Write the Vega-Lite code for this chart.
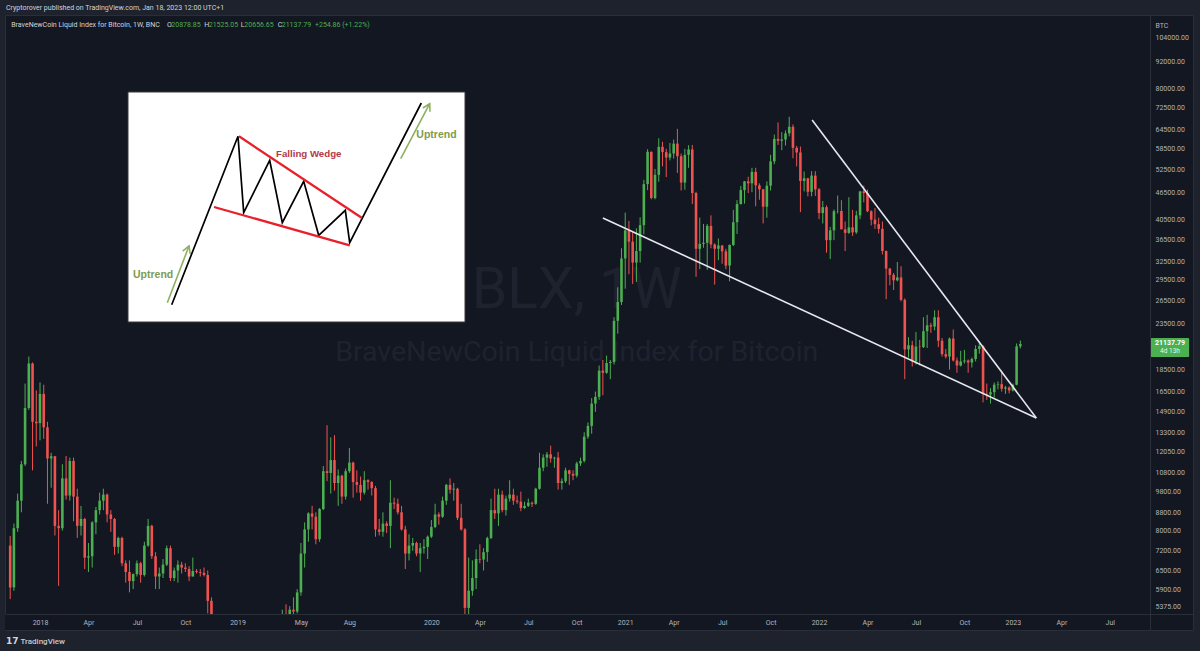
{
"$schema": "https://vega.github.io/schema/vega-lite/v6.json",
"width": 1188, "height": 615,
"autosize": {"type": "none"},
"padding": {"left": 5, "top": 15, "right": 7, "bottom": 21},
"background": "#1e222d",
"config": {"view": {"fill": "#131722", "stroke": "#2a2e39", "strokeWidth": 1}, "font": "Roboto"},
"title": {"text": "Cryptorover published on TradingView.com, Jan 18, 2023 12:00 UTC+1", "anchor": "start", "frame": "group", "orient": "top", "offset": 0, "baseline": "middle", "fontSize": 7, "fontWeight": "normal", "color": "#d1d4dc", "font": "Roboto", "dx": 1},
"datasets": {
"candles": [
{"d":"2017-11-06","o":7400,"h":7780,"l":5600,"c":5950},
{"d":"2017-11-13","o":5950,"h":8300,"l":5850,"c":8100},
{"d":"2017-11-20","o":8100,"h":9700,"l":7950,"c":9350},
{"d":"2017-11-27","o":9350,"h":11500,"l":8800,"c":11300},
{"d":"2017-12-04","o":11300,"h":17200,"l":11200,"c":15150},
{"d":"2017-12-11","o":15150,"h":19800,"l":15000,"c":19100},
{"d":"2017-12-18","o":19100,"h":19200,"l":10950,"c":14100},
{"d":"2017-12-25","o":14100,"h":16600,"l":12400,"c":14000},
{"d":"2018-01-01","o":14000,"h":17300,"l":12800,"c":16300},
{"d":"2018-01-08","o":16300,"h":17100,"l":12900,"c":13700},
{"d":"2018-01-15","o":13700,"h":14100,"l":9200,"c":11650},
{"d":"2018-01-22","o":11650,"h":12000,"l":10000,"c":11780},
{"d":"2018-01-29","o":11780,"h":11800,"l":7800,"c":8200},
{"d":"2018-02-05","o":8200,"h":8900,"l":6000,"c":8100},
{"d":"2018-02-12","o":8100,"h":11300,"l":8000,"c":10500},
{"d":"2018-02-19","o":10500,"h":11800,"l":9400,"c":9600},
{"d":"2018-02-26","o":9600,"h":11700,"l":9350,"c":11500},
{"d":"2018-03-05","o":11500,"h":11700,"l":8400,"c":9550},
{"d":"2018-03-12","o":9550,"h":9950,"l":7700,"c":8200},
{"d":"2018-03-19","o":8200,"h":9100,"l":7800,"c":8500},
{"d":"2018-03-26","o":8500,"h":8550,"l":6550,"c":6950},
{"d":"2018-04-02","o":6950,"h":7500,"l":6450,"c":7000},
{"d":"2018-04-09","o":7000,"h":8400,"l":6600,"c":8350},
{"d":"2018-04-16","o":8350,"h":9050,"l":7850,"c":8900},
{"d":"2018-04-23","o":8900,"h":9750,"l":8700,"c":9350},
{"d":"2018-04-30","o":9350,"h":9950,"l":8900,"c":9650},
{"d":"2018-05-07","o":9650,"h":9700,"l":8350,"c":8700},
{"d":"2018-05-14","o":8700,"h":8900,"l":7950,"c":8500},
{"d":"2018-05-21","o":8500,"h":8550,"l":7050,"c":7350},
{"d":"2018-05-28","o":7350,"h":7750,"l":7100,"c":7700},
{"d":"2018-06-04","o":7700,"h":7750,"l":6650,"c":6750},
{"d":"2018-06-11","o":6750,"h":6850,"l":6100,"c":6450},
{"d":"2018-06-18","o":6450,"h":6850,"l":5800,"c":6150},
{"d":"2018-06-25","o":6150,"h":6400,"l":5900,"c":6380},
{"d":"2018-07-02","o":6380,"h":6850,"l":6300,"c":6750},
{"d":"2018-07-09","o":6750,"h":6800,"l":6100,"c":6350},
{"d":"2018-07-16","o":6350,"h":7550,"l":6300,"c":7400},
{"d":"2018-07-23","o":7400,"h":8500,"l":7350,"c":8200},
{"d":"2018-07-30","o":8200,"h":8250,"l":6900,"c":7000},
{"d":"2018-08-06","o":7000,"h":7150,"l":5900,"c":6300},
{"d":"2018-08-13","o":6300,"h":6600,"l":5900,"c":6400},
{"d":"2018-08-20","o":6400,"h":6900,"l":6250,"c":6700},
{"d":"2018-08-27","o":6700,"h":7400,"l":6650,"c":7300},
{"d":"2018-09-03","o":7300,"h":7400,"l":6150,"c":6250},
{"d":"2018-09-10","o":6250,"h":6600,"l":6150,"c":6500},
{"d":"2018-09-17","o":6500,"h":6850,"l":6100,"c":6700},
{"d":"2018-09-24","o":6700,"h":6800,"l":6400,"c":6600},
{"d":"2018-10-01","o":6600,"h":6750,"l":6450,"c":6550},
{"d":"2018-10-08","o":6550,"h":6650,"l":6150,"c":6300},
{"d":"2018-10-15","o":6300,"h":6950,"l":6300,"c":6480},
{"d":"2018-10-22","o":6480,"h":6550,"l":6400,"c":6450},
{"d":"2018-10-29","o":6450,"h":6550,"l":6300,"c":6420},
{"d":"2018-11-05","o":6420,"h":6600,"l":6300,"c":6350},
{"d":"2018-11-12","o":6350,"h":6500,"l":5200,"c":5550},
{"d":"2018-11-19","o":5550,"h":5650,"l":3600,"c":4000},
{"d":"2018-11-26","o":4000,"h":4350,"l":3500,"c":4150},
{"d":"2018-12-03","o":4150,"h":4200,"l":3400,"c":3550},
{"d":"2018-12-10","o":3550,"h":3620,"l":3150,"c":3250},
{"d":"2018-12-17","o":3250,"h":4200,"l":3220,"c":3950},
{"d":"2018-12-24","o":3950,"h":4250,"l":3570,"c":3750},
{"d":"2018-12-31","o":3750,"h":4100,"l":3650,"c":4050},
{"d":"2019-01-07","o":4050,"h":4100,"l":3500,"c":3550},
{"d":"2019-01-14","o":3550,"h":3850,"l":3520,"c":3530},
{"d":"2019-01-21","o":3530,"h":3650,"l":3450,"c":3450},
{"d":"2019-01-28","o":3450,"h":3550,"l":3350,"c":3420},
{"d":"2019-02-04","o":3420,"h":3700,"l":3350,"c":3650},
{"d":"2019-02-11","o":3650,"h":3700,"l":3550,"c":3660},
{"d":"2019-02-18","o":3660,"h":4200,"l":3650,"c":3850},
{"d":"2019-02-25","o":3850,"h":3900,"l":3700,"c":3860},
{"d":"2019-03-04","o":3860,"h":3950,"l":3700,"c":3920},
{"d":"2019-03-11","o":3920,"h":4050,"l":3800,"c":4000},
{"d":"2019-03-18","o":4000,"h":4100,"l":3900,"c":3980},
{"d":"2019-03-25","o":3980,"h":4150,"l":3950,"c":4100},
{"d":"2019-04-01","o":4100,"h":5300,"l":4100,"c":5150},
{"d":"2019-04-08","o":5150,"h":5450,"l":4950,"c":5080},
{"d":"2019-04-15","o":5080,"h":5400,"l":5050,"c":5300},
{"d":"2019-04-22","o":5300,"h":5650,"l":5100,"c":5250},
{"d":"2019-04-29","o":5250,"h":5900,"l":5200,"c":5800},
{"d":"2019-05-06","o":5800,"h":7500,"l":5700,"c":7100},
{"d":"2019-05-13","o":7100,"h":8350,"l":6600,"c":8050},
{"d":"2019-05-20","o":8050,"h":8800,"l":7550,"c":8750},
{"d":"2019-05-27","o":8750,"h":9100,"l":8050,"c":8600},
{"d":"2019-06-03","o":8600,"h":8800,"l":7450,"c":7650},
{"d":"2019-06-10","o":7650,"h":9000,"l":7550,"c":8950},
{"d":"2019-06-17","o":8950,"h":11200,"l":8900,"c":10900},
{"d":"2019-06-24","o":10900,"h":13850,"l":10350,"c":10800},
{"d":"2019-07-01","o":10800,"h":13000,"l":9700,"c":11550},
{"d":"2019-07-08","o":11550,"h":13150,"l":9850,"c":10250},
{"d":"2019-07-15","o":10250,"h":11000,"l":9100,"c":10650},
{"d":"2019-07-22","o":10650,"h":10700,"l":9200,"c":9550},
{"d":"2019-07-29","o":9550,"h":11050,"l":9400,"c":10900},
{"d":"2019-08-05","o":10900,"h":12300,"l":10800,"c":11400},
{"d":"2019-08-12","o":11400,"h":11450,"l":9500,"c":10300},
{"d":"2019-08-19","o":10300,"h":10950,"l":9750,"c":10150},
{"d":"2019-08-26","o":10150,"h":10600,"l":9350,"c":9750},
{"d":"2019-09-02","o":9750,"h":10900,"l":9650,"c":10400},
{"d":"2019-09-09","o":10400,"h":10450,"l":9900,"c":10300},
{"d":"2019-09-16","o":10300,"h":10350,"l":9600,"c":9980},
{"d":"2019-09-23","o":9980,"h":10100,"l":7750,"c":8050},
{"d":"2019-09-30","o":8050,"h":8500,"l":7800,"c":7950},
{"d":"2019-10-07","o":7950,"h":8800,"l":7750,"c":8300},
{"d":"2019-10-14","o":8300,"h":8400,"l":7900,"c":8200},
{"d":"2019-10-21","o":8200,"h":10400,"l":7300,"c":9250},
{"d":"2019-10-28","o":9250,"h":9500,"l":8950,"c":9200},
{"d":"2019-11-04","o":9200,"h":9450,"l":8700,"c":8800},
{"d":"2019-11-11","o":8800,"h":9100,"l":8000,"c":8050},
{"d":"2019-11-18","o":8050,"h":8200,"l":6550,"c":7100},
{"d":"2019-11-25","o":7100,"h":7850,"l":6850,"c":7400},
{"d":"2019-12-02","o":7400,"h":7700,"l":7200,"c":7500},
{"d":"2019-12-09","o":7500,"h":7550,"l":7000,"c":7100},
{"d":"2019-12-16","o":7100,"h":7500,"l":6450,"c":7300},
{"d":"2019-12-23","o":7300,"h":7650,"l":7100,"c":7350},
{"d":"2019-12-30","o":7350,"h":7800,"l":6900,"c":7750},
{"d":"2020-01-06","o":7750,"h":8450,"l":7700,"c":8150},
{"d":"2020-01-13","o":8150,"h":9200,"l":8100,"c":8700},
{"d":"2020-01-20","o":8700,"h":8800,"l":8250,"c":8600},
{"d":"2020-01-27","o":8600,"h":9550,"l":8550,"c":9350},
{"d":"2020-02-03","o":9350,"h":10200,"l":9150,"c":10150},
{"d":"2020-02-10","o":10150,"h":10500,"l":9700,"c":9900},
{"d":"2020-02-17","o":9900,"h":10250,"l":9350,"c":9950},
{"d":"2020-02-24","o":9950,"h":10000,"l":8450,"c":8550},
{"d":"2020-03-02","o":8550,"h":9200,"l":8000,"c":8050},
{"d":"2020-03-09","o":8050,"h":8100,"l":3850,"c":5350},
{"d":"2020-03-16","o":5350,"h":6950,"l":4450,"c":5850},
{"d":"2020-03-23","o":5850,"h":6850,"l":5700,"c":6250},
{"d":"2020-03-30","o":6250,"h":7250,"l":5900,"c":6900},
{"d":"2020-04-06","o":6900,"h":7450,"l":6750,"c":6880},
{"d":"2020-04-13","o":6880,"h":7300,"l":6500,"c":7150},
{"d":"2020-04-20","o":7150,"h":7750,"l":6800,"c":7700},
{"d":"2020-04-27","o":7700,"h":9450,"l":7650,"c":8900},
{"d":"2020-05-04","o":8900,"h":9950,"l":8500,"c":8750},
{"d":"2020-05-11","o":8750,"h":9950,"l":8200,"c":9650},
{"d":"2020-05-18","o":9650,"h":9850,"l":8800,"c":8900},
{"d":"2020-05-25","o":8900,"h":9600,"l":8650,"c":9450},
{"d":"2020-06-01","o":9450,"h":10400,"l":9300,"c":9650},
{"d":"2020-06-08","o":9650,"h":9950,"l":9150,"c":9350},
{"d":"2020-06-15","o":9350,"h":9600,"l":9200,"c":9300},
{"d":"2020-06-22","o":9300,"h":9800,"l":8850,"c":9000},
{"d":"2020-06-29","o":9000,"h":9300,"l":8950,"c":9100},
{"d":"2020-07-06","o":9100,"h":9450,"l":9050,"c":9250},
{"d":"2020-07-13","o":9250,"h":9300,"l":9050,"c":9200},
{"d":"2020-07-20","o":9200,"h":10000,"l":9150,"c":9950},
{"d":"2020-07-27","o":9950,"h":12000,"l":9900,"c":11100},
{"d":"2020-08-03","o":11100,"h":11900,"l":10900,"c":11700},
{"d":"2020-08-10","o":11700,"h":12050,"l":11150,"c":11900},
{"d":"2020-08-17","o":11900,"h":12450,"l":11400,"c":11650},
{"d":"2020-08-24","o":11650,"h":11750,"l":11100,"c":11700},
{"d":"2020-08-31","o":11700,"h":12050,"l":9900,"c":10250},
{"d":"2020-09-07","o":10250,"h":10500,"l":9900,"c":10350},
{"d":"2020-09-14","o":10350,"h":11100,"l":10250,"c":10950},
{"d":"2020-09-21","o":10950,"h":10980,"l":10150,"c":10750},
{"d":"2020-09-28","o":10750,"h":10950,"l":10400,"c":10650},
{"d":"2020-10-05","o":10650,"h":11450,"l":10550,"c":11350},
{"d":"2020-10-12","o":11350,"h":11700,"l":11200,"c":11500},
{"d":"2020-10-19","o":11500,"h":13350,"l":11400,"c":13050},
{"d":"2020-10-26","o":13050,"h":14050,"l":12900,"c":13800},
{"d":"2020-11-02","o":13800,"h":15950,"l":13250,"c":15500},
{"d":"2020-11-09","o":15500,"h":16500,"l":14850,"c":16050},
{"d":"2020-11-16","o":16050,"h":18900,"l":15800,"c":18400},
{"d":"2020-11-23","o":18400,"h":19450,"l":16200,"c":18200},
{"d":"2020-11-30","o":18200,"h":19900,"l":18100,"c":19150},
{"d":"2020-12-07","o":19150,"h":19450,"l":17600,"c":19250},
{"d":"2020-12-14","o":19250,"h":24300,"l":19000,"c":23850},
{"d":"2020-12-21","o":23850,"h":28400,"l":22300,"c":26300},
{"d":"2020-12-28","o":26300,"h":34800,"l":25900,"c":33000},
{"d":"2021-01-04","o":33000,"h":41900,"l":28200,"c":38200},
{"d":"2021-01-11","o":38200,"h":40100,"l":30400,"c":36000},
{"d":"2021-01-18","o":36000,"h":37900,"l":28900,"c":32300},
{"d":"2021-01-25","o":32300,"h":38600,"l":29200,"c":34300},
{"d":"2021-02-01","o":34300,"h":40900,"l":32300,"c":39250},
{"d":"2021-02-08","o":39250,"h":49700,"l":37400,"c":48600},
{"d":"2021-02-15","o":48600,"h":58300,"l":47100,"c":57500},
{"d":"2021-02-22","o":57500,"h":57600,"l":44900,"c":45200},
{"d":"2021-03-01","o":45200,"h":52600,"l":44900,"c":51000},
{"d":"2021-03-08","o":51000,"h":61700,"l":49200,"c":59000},
{"d":"2021-03-15","o":59000,"h":60600,"l":53300,"c":57400},
{"d":"2021-03-22","o":57400,"h":58400,"l":50400,"c":55800},
{"d":"2021-03-29","o":55800,"h":60200,"l":55000,"c":57000},
{"d":"2021-04-05","o":57000,"h":61300,"l":55500,"c":60000},
{"d":"2021-04-12","o":60000,"h":64800,"l":51500,"c":56200},
{"d":"2021-04-19","o":56200,"h":57000,"l":47000,"c":49000},
{"d":"2021-04-26","o":49000,"h":58400,"l":47200,"c":56600},
{"d":"2021-05-03","o":56600,"h":59500,"l":52900,"c":58200},
{"d":"2021-05-10","o":58200,"h":59600,"l":43800,"c":46400},
{"d":"2021-05-17","o":46400,"h":46700,"l":30000,"c":34700},
{"d":"2021-05-24","o":34700,"h":40800,"l":31200,"c":35600},
{"d":"2021-05-31","o":35600,"h":39500,"l":34900,"c":35800},
{"d":"2021-06-07","o":35800,"h":39500,"l":31100,"c":39100},
{"d":"2021-06-14","o":39100,"h":41300,"l":34800,"c":35500},
{"d":"2021-06-21","o":35500,"h":35700,"l":28800,"c":34700},
{"d":"2021-06-28","o":34700,"h":36600,"l":32700,"c":35300},
{"d":"2021-07-05","o":35300,"h":35400,"l":32100,"c":34250},
{"d":"2021-07-12","o":34250,"h":34700,"l":31200,"c":31800},
{"d":"2021-07-19","o":31800,"h":35500,"l":29300,"c":35400},
{"d":"2021-07-26","o":35400,"h":42500,"l":35200,"c":39850},
{"d":"2021-08-02","o":39850,"h":44700,"l":37500,"c":43800},
{"d":"2021-08-09","o":43800,"h":48100,"l":43700,"c":47100},
{"d":"2021-08-16","o":47100,"h":49400,"l":43900,"c":49300},
{"d":"2021-08-23","o":49300,"h":50500,"l":46400,"c":48800},
{"d":"2021-08-30","o":48800,"h":52900,"l":46600,"c":51800},
{"d":"2021-09-06","o":51800,"h":52900,"l":43300,"c":48300},
{"d":"2021-09-13","o":48300,"h":48800,"l":44800,"c":47300},
{"d":"2021-09-20","o":47300,"h":47400,"l":39600,"c":43200},
{"d":"2021-09-27","o":43200,"h":49300,"l":40800,"c":48200},
{"d":"2021-10-04","o":48200,"h":56600,"l":47000,"c":54700},
{"d":"2021-10-11","o":54700,"h":62900,"l":53900,"c":61500},
{"d":"2021-10-18","o":61500,"h":67000,"l":59600,"c":60900},
{"d":"2021-10-25","o":60900,"h":63700,"l":58000,"c":61300},
{"d":"2021-11-01","o":61300,"h":64300,"l":59400,"c":63300},
{"d":"2021-11-08","o":63300,"h":69000,"l":62300,"c":65500},
{"d":"2021-11-15","o":65500,"h":66300,"l":55600,"c":58700},
{"d":"2021-11-22","o":58700,"h":59300,"l":53300,"c":57300},
{"d":"2021-11-29","o":57300,"h":59100,"l":42000,"c":49400},
{"d":"2021-12-06","o":49400,"h":51900,"l":46800,"c":50100},
{"d":"2021-12-13","o":50100,"h":50200,"l":45600,"c":46700},
{"d":"2021-12-20","o":46700,"h":52000,"l":45600,"c":50800},
{"d":"2021-12-27","o":50800,"h":52000,"l":45700,"c":47300},
{"d":"2022-01-03","o":47300,"h":47600,"l":40500,"c":41800},
{"d":"2022-01-10","o":41800,"h":44500,"l":39600,"c":43100},
{"d":"2022-01-17","o":43100,"h":43500,"l":34000,"c":36300},
{"d":"2022-01-24","o":36300,"h":38900,"l":32900,"c":38200},
{"d":"2022-01-31","o":38200,"h":42600,"l":36300,"c":42200},
{"d":"2022-02-07","o":42200,"h":45800,"l":41700,"c":42250},
{"d":"2022-02-14","o":42250,"h":44700,"l":39600,"c":38400},
{"d":"2022-02-21","o":38400,"h":40000,"l":34300,"c":37700},
{"d":"2022-02-28","o":37700,"h":45400,"l":37500,"c":38800},
{"d":"2022-03-07","o":38800,"h":42500,"l":37100,"c":37800},
{"d":"2022-03-14","o":37800,"h":42300,"l":37500,"c":41300},
{"d":"2022-03-21","o":41300,"h":46900,"l":40500,"c":46800},
{"d":"2022-03-28","o":46800,"h":48200,"l":44200,"c":46400},
{"d":"2022-04-04","o":46400,"h":47200,"l":42000,"c":42200},
{"d":"2022-04-11","o":42200,"h":42400,"l":39200,"c":40400},
{"d":"2022-04-18","o":40400,"h":42900,"l":38500,"c":39450},
{"d":"2022-04-25","o":39450,"h":40800,"l":37600,"c":38500},
{"d":"2022-05-02","o":38500,"h":40000,"l":33700,"c":34300},
{"d":"2022-05-09","o":34300,"h":34400,"l":26700,"c":31300},
{"d":"2022-05-16","o":31300,"h":31400,"l":28700,"c":30300},
{"d":"2022-05-23","o":30300,"h":30600,"l":28000,"c":29450},
{"d":"2022-05-30","o":29450,"h":32400,"l":29300,"c":29900},
{"d":"2022-06-06","o":29900,"h":31700,"l":26400,"c":26600},
{"d":"2022-06-13","o":26600,"h":26800,"l":17600,"c":20550},
{"d":"2022-06-20","o":20550,"h":21900,"l":19700,"c":21000},
{"d":"2022-06-27","o":21000,"h":21500,"l":18800,"c":19300},
{"d":"2022-07-04","o":19300,"h":22500,"l":19000,"c":20850},
{"d":"2022-07-11","o":20850,"h":21600,"l":18900,"c":20800},
{"d":"2022-07-18","o":20800,"h":24300,"l":20700,"c":22600},
{"d":"2022-07-25","o":22600,"h":24600,"l":20700,"c":23300},
{"d":"2022-08-01","o":23300,"h":23600,"l":22400,"c":23150},
{"d":"2022-08-08","o":23150,"h":25200,"l":22700,"c":24300},
{"d":"2022-08-15","o":24300,"h":25200,"l":20800,"c":21500},
{"d":"2022-08-22","o":21500,"h":21800,"l":19800,"c":20050},
{"d":"2022-08-29","o":20050,"h":20600,"l":19600,"c":19800},
{"d":"2022-09-05","o":19800,"h":21850,"l":18500,"c":21750},
{"d":"2022-09-12","o":21750,"h":22800,"l":19300,"c":19400},
{"d":"2022-09-19","o":19400,"h":19700,"l":18200,"c":18900},
{"d":"2022-09-26","o":18900,"h":20400,"l":18800,"c":19300},
{"d":"2022-10-03","o":19300,"h":20500,"l":19100,"c":19400},
{"d":"2022-10-10","o":19400,"h":19500,"l":18200,"c":19200},
{"d":"2022-10-17","o":19200,"h":19700,"l":18700,"c":19550},
{"d":"2022-10-24","o":19550,"h":21000,"l":19300,"c":20600},
{"d":"2022-10-31","o":20600,"h":21450,"l":20100,"c":20900},
{"d":"2022-11-07","o":20900,"h":21000,"l":15600,"c":16300},
{"d":"2022-11-14","o":16300,"h":17200,"l":15800,"c":16250},
{"d":"2022-11-21","o":16250,"h":16800,"l":15500,"c":16450},
{"d":"2022-11-28","o":16450,"h":17300,"l":16000,"c":17100},
{"d":"2022-12-05","o":17100,"h":17400,"l":16700,"c":17150},
{"d":"2022-12-12","o":17150,"h":18400,"l":16500,"c":16750},
{"d":"2022-12-19","o":16750,"h":17000,"l":16300,"c":16850},
{"d":"2022-12-26","o":16850,"h":16950,"l":16350,"c":16600},
{"d":"2023-01-02","o":16600,"h":17200,"l":16500,"c":17100},
{"d":"2023-01-09","o":17100,"h":21200,"l":17050,"c":20878.85},
{"d":"2023-01-16","o":20878.85,"h":21525.05,"l":20656.65,"c":21137.79}
]
},
"layer": [
{"layer": [
  {"data": {"values": [{}]},
   "mark": {"type": "text", "text": "BLX, 1W", "fontSize": 57, "align": "center", "baseline": "alphabetic", "fill": "#1e222f", "font": "Roboto"},
   "encoding": {
     "x": {"datum": {"year": 2020, "month": 10, "date": 5, "utc": true}, "type": "temporal", "scale": {"type": "utc", "domain": [1509085728000, 1701843264000], "nice": false, "padding": 0}},
     "y": {"datum": 25518, "type": "quantitative", "scale": {"type": "log", "domain": [4768, 117230], "nice": false}}}},
  {"data": {"values": [{}]},
   "mark": {"type": "text", "text": "BraveNewCoin Liquid Index for Bitcoin", "fontSize": 28.5, "align": "center", "baseline": "alphabetic", "fill": "#1e222f", "font": "Roboto"},
   "encoding": {
     "x": {"datum": {"year": 2020, "month": 10, "date": 5, "utc": true}, "type": "temporal", "scale": {"type": "utc", "domain": [1509085728000, 1701843264000], "nice": false, "padding": 0}},
     "y": {"datum": 19336, "type": "quantitative", "scale": {"type": "log", "domain": [4768, 117230], "nice": false}}}},
  {"data": {"name": "candles"},
   "mark": {"type": "rule", "strokeWidth": 1, "clip": true},
   "encoding": {
     "x": {"field": "d", "type": "temporal", "scale": {"type": "utc", "domain": [1509085728000, 1701843264000], "nice": false, "padding": 0},
       "axis": {"orient": "bottom", "offset": -16,
         "values": [1514764800000,1522627200000,1530489600000,1538352000000,1546819200000,1557100800000,1564963200000,1578268800000,1586131200000,1593993600000,1601856000000,1609718400000,1617580800000,1625443200000,1633305600000,1641168000000,1649030400000,1656892800000,1664755200000,1672617600000,1680480000000,1688342400000],
         "labelExpr": "utcmonth(datum.value) === 0 ? utcFormat(datum.value, '%Y') : utcFormat(datum.value, '%b')",
         "grid": false, "ticks": false, "domain": true, "domainColor": "#2a2e39", "domainWidth": 1,
         "labelColor": "#b2b5be", "labelFontSize": 7, "labelFont": "Roboto", "labelPadding": 4, "labelFlush": false, "labelOverlap": false, "labelAlign": "center", "labelBaseline": "top",
         "title": "TradingView", "titleColor": "#c8cad0", "titleFontSize": 8, "titleFont": "Roboto", "titleFontWeight": 500, "titleAlign": "left", "titleBaseline": "middle", "titleX": 15, "titleY": 27, "zindex": 1}},
     "y": {"field": "l", "type": "quantitative", "scale": {"type": "log", "domain": [4768, 117230], "nice": false},
       "axis": {"orient": "right", "offset": -43,
         "values": [104000,92000,80000,72500,64500,58500,52500,46500,40500,36500,32500,29500,26500,23500,18500,16500,14900,13300,12050,10800,9800,8800,8000,7200,6500,5900,5375],
         "format": ".2f", "grid": false, "ticks": false, "domain": true, "domainColor": "#2a2e39", "domainWidth": 1,
         "labelColor": "#b2b5be", "labelFontSize": 7, "labelFont": "Roboto", "labelPadding": 5, "labelAlign": "left", "labelBaseline": "middle", "labelOverlap": false, "labelFlush": false,
         "title": "BTC", "titleAngle": 0, "titleX": 5, "titleY": 10, "titleAlign": "left", "titleBaseline": "middle", "titleColor": "#b2b5be", "titleFontSize": 7, "titleFont": "Roboto", "titleFontWeight": "normal", "zindex": 1}},
     "y2": {"field": "h"},
     "color": {"condition": {"test": "datum.c >= datum.o", "value": "#4caf50"}, "value": "#ef5350"}}},
  {"data": {"name": "candles"},
   "mark": {"type": "bar", "width": 2.6, "clip": true},
   "encoding": {
     "x": {"field": "d", "type": "temporal", "scale": {"type": "utc", "domain": [1509085728000, 1701843264000], "nice": false, "padding": 0}},
     "y": {"field": "o", "type": "quantitative", "scale": {"type": "log", "domain": [4768, 117230], "nice": false}},
     "y2": {"field": "c"},
     "color": {"condition": {"test": "datum.c >= datum.o", "value": "#4caf50"}, "value": "#ef5350"}}},
  {"data": {"values": [
     {"g": "lower", "d": "2020-11-23", "p": 40740},
     {"g": "lower", "d": "2023-02-15", "p": 14380},
     {"g": "upper", "d": "2021-12-21", "p": 67860},
     {"g": "upper", "d": "2023-02-15", "p": 14380}]},
   "mark": {"type": "line", "color": "#e6e8ee", "strokeWidth": 1.6, "clip": true},
   "encoding": {
     "x": {"field": "d", "type": "temporal", "scale": {"type": "utc", "domain": [1509085728000, 1701843264000], "nice": false, "padding": 0}},
     "y": {"field": "p", "type": "quantitative", "scale": {"type": "log", "domain": [4768, 117230], "nice": false}},
     "detail": {"field": "g"}}},
  {"data": {"values": [{}]},
   "mark": {"type": "rect", "fill": "#131722", "clip": true},
   "encoding": {
     "x": {"datum": {"year": 2017, "month": 9, "date": 1, "utc": true}, "type": "temporal", "scale": {"type": "utc", "domain": [1509085728000, 1701843264000], "nice": false, "padding": 0}},
     "x2": {"datum": {"year": 2024, "month": 2, "date": 1, "utc": true}},
     "y": {"datum": 4000, "type": "quantitative", "scale": {"type": "log", "domain": [4768, 117230], "nice": false}},
     "y2": {"datum": 5181}}},
  {"data": {"values": [
     {"t": "BraveNewCoin Liquid Index for Bitcoin, 1W, BNC", "d": "2017-11-08T00:00:00Z"},
     {"t": "O", "d": "2018-08-27T12:00:00Z"},
     {"t": "H", "d": "2018-11-05T12:00:00Z"},
     {"t": "L", "d": "2019-01-13T00:00:00Z"},
     {"t": "C", "d": "2019-03-23T10:00:00Z"}]},
   "mark": {"type": "text", "align": "left", "baseline": "middle", "fontSize": 7, "fill": "#d1d4dc", "font": "Roboto"},
   "encoding": {
     "x": {"field": "d", "type": "temporal", "scale": {"type": "utc", "domain": [1509085728000, 1701843264000], "nice": false, "padding": 0}},
     "y": {"datum": 111290, "type": "quantitative", "scale": {"type": "log", "domain": [4768, 117230], "nice": false}},
     "text": {"field": "t"}}},
  {"data": {"values": [
     {"t": "20878.85", "d": "2018-09-04T12:00:00Z"},
     {"t": "21525.05", "d": "2018-11-13T19:00:00Z"},
     {"t": "20656.65", "d": "2019-01-19T17:00:00Z"},
     {"t": "21137.79", "d": "2019-03-30T22:00:00Z"},
     {"t": "+254.86 (+1.22%)", "d": "2019-06-01T10:00:00Z"}]},
   "mark": {"type": "text", "align": "left", "baseline": "middle", "fontSize": 7, "fill": "#4caf50", "font": "Roboto"},
   "encoding": {
     "x": {"field": "d", "type": "temporal", "scale": {"type": "utc", "domain": [1509085728000, 1701843264000], "nice": false, "padding": 0}},
     "y": {"datum": 111290, "type": "quantitative", "scale": {"type": "log", "domain": [4768, 117230], "nice": false}},
     "text": {"field": "t"}}},
  {"data": {"values": [{}]},
   "mark": {"type": "rect", "fill": "#4caf50", "cornerRadius": 1},
   "encoding": {
     "x": {"datum": {"year": 2023, "month": 9, "date": 18, "utc": true}, "type": "temporal", "scale": {"type": "utc", "domain": [1509085728000, 1701843264000], "nice": false, "padding": 0}},
     "x2": {"datum": {"year": 2023, "month": 11, "date": 29, "utc": true}},
     "y": {"datum": 21796, "type": "quantitative", "scale": {"type": "log", "domain": [4768, 117230], "nice": false}},
     "y2": {"datum": 19744}}},
  {"data": {"values": [{}]},
   "mark": {"type": "text", "text": "21137.79", "align": "center", "baseline": "middle", "fontSize": 7, "fontWeight": "bold", "fill": "#ffffff", "font": "Roboto"},
   "encoding": {
     "x": {"datum": {"year": 2023, "month": 10, "date": 24, "utc": true}, "type": "temporal", "scale": {"type": "utc", "domain": [1509085728000, 1701843264000], "nice": false, "padding": 0}},
     "y": {"datum": 21291, "type": "quantitative", "scale": {"type": "log", "domain": [4768, 117230], "nice": false}}}},
  {"data": {"values": [{}]},
   "mark": {"type": "text", "text": "4d 13h", "align": "center", "baseline": "middle", "fontSize": 6.5, "fill": "#e8f5e9", "font": "Roboto"},
   "encoding": {
     "x": {"datum": {"year": 2023, "month": 10, "date": 24, "utc": true}, "type": "temporal", "scale": {"type": "utc", "domain": [1509085728000, 1701843264000], "nice": false, "padding": 0}},
     "y": {"datum": 20369, "type": "quantitative", "scale": {"type": "log", "domain": [4768, 117230], "nice": false}}}},
  {"data": {"values": [{}]},
   "mark": {"type": "text", "text": "17", "align": "left", "baseline": "middle", "fontSize": 9, "fontWeight": "bold", "fill": "#d1d4dc", "font": "DejaVu Sans"},
   "encoding": {
     "x": {"datum": {"year": 2017, "month": 10, "date": 29, "utc": true}, "type": "temporal", "scale": {"type": "utc", "domain": [1509085728000, 1701843264000], "nice": false, "padding": 0}},
     "y": {"datum": 4502, "type": "quantitative", "scale": {"type": "log", "domain": [4768, 117230], "nice": false}}}}
]},
{"layer": [
  {"data": {"values": [{"u": 0, "v": 0, "u2": 337, "v2": 230}]},
   "mark": {"type": "rect", "fill": "#ffffff", "stroke": "#3a3a3a", "strokeWidth": 1},
   "encoding": {
     "x": {"field": "u", "type": "quantitative", "scale": {"domain": [-123, 1065], "nice": false, "zero": false}, "axis": null},
     "x2": {"field": "u2"},
     "y": {"field": "v", "type": "quantitative", "scale": {"domain": [-77, 538], "nice": false, "zero": false, "reverse": true}, "axis": null},
     "y2": {"field": "v2"}}},
  {"data": {"values": [
     {"g": "z", "i": 0, "u": 43.7, "v": 212.7},
     {"g": "z", "i": 1, "u": 110, "v": 44.3},
     {"g": "z", "i": 2, "u": 115.7, "v": 120.7},
     {"g": "z", "i": 3, "u": 141.7, "v": 68.3},
     {"g": "z", "i": 4, "u": 154.3, "v": 130.7},
     {"g": "z", "i": 5, "u": 175.7, "v": 89.3},
     {"g": "z", "i": 6, "u": 190.7, "v": 143.3},
     {"g": "z", "i": 7, "u": 217.3, "v": 118.3},
     {"g": "z", "i": 8, "u": 221.7, "v": 150.7},
     {"g": "z", "i": 9, "u": 293.3, "v": 11}]},
   "mark": {"type": "line", "color": "#000000", "strokeWidth": 1.7, "strokeJoin": "miter"},
   "encoding": {
     "x": {"field": "u", "type": "quantitative", "scale": {"domain": [-123, 1065], "nice": false, "zero": false}, "axis": null},
     "y": {"field": "v", "type": "quantitative", "scale": {"domain": [-77, 538], "nice": false, "zero": false, "reverse": true}, "axis": null},
     "order": {"field": "i"}, "detail": {"field": "g"}}},
  {"data": {"values": [
     {"g": "top", "i": 0, "u": 111, "v": 44.3},
     {"g": "top", "i": 1, "u": 234, "v": 126},
     {"g": "bot", "i": 0, "u": 86, "v": 115},
     {"g": "bot", "i": 1, "u": 221.7, "v": 153.3}]},
   "mark": {"type": "line", "color": "#e8202a", "strokeWidth": 2.3},
   "encoding": {
     "x": {"field": "u", "type": "quantitative", "scale": {"domain": [-123, 1065], "nice": false, "zero": false}, "axis": null},
     "y": {"field": "v", "type": "quantitative", "scale": {"domain": [-77, 538], "nice": false, "zero": false, "reverse": true}, "axis": null},
     "order": {"field": "i"}, "detail": {"field": "g"}}},
  {"data": {"values": [
     {"g": "a1", "i": 0, "u": 39.3, "v": 210.7},
     {"g": "a1", "i": 1, "u": 61, "v": 154},
     {"g": "h1", "i": 0, "u": 62.2, "v": 162},
     {"g": "h1", "i": 1, "u": 61, "v": 154},
     {"g": "h1", "i": 2, "u": 54.7, "v": 159.1},
     {"g": "a2", "i": 0, "u": 272.7, "v": 66.7},
     {"g": "a2", "i": 1, "u": 301.7, "v": 11.7},
     {"g": "h2", "i": 0, "u": 302, "v": 19.8},
     {"g": "h2", "i": 1, "u": 301.7, "v": 11.7},
     {"g": "h2", "i": 2, "u": 294.9, "v": 16}]},
   "mark": {"type": "line", "color": "#8fb060", "strokeWidth": 1.6},
   "encoding": {
     "x": {"field": "u", "type": "quantitative", "scale": {"domain": [-123, 1065], "nice": false, "zero": false}, "axis": null},
     "y": {"field": "v", "type": "quantitative", "scale": {"domain": [-77, 538], "nice": false, "zero": false, "reverse": true}, "axis": null},
     "order": {"field": "i"}, "detail": {"field": "g"}}},
  {"data": {"values": [{"t": "Falling Wedge", "u": 148, "v": 61.7}]},
   "mark": {"type": "text", "align": "left", "baseline": "middle", "fontSize": 9.7, "fontWeight": "bold", "fill": "#b23a48", "font": "Liberation Sans"},
   "encoding": {
     "x": {"field": "u", "type": "quantitative", "scale": {"domain": [-123, 1065], "nice": false, "zero": false}, "axis": null},
     "y": {"field": "v", "type": "quantitative", "scale": {"domain": [-77, 538], "nice": false, "zero": false, "reverse": true}, "axis": null},
     "text": {"field": "t"}}},
  {"data": {"values": [{"t": "Uptrend", "u": 5, "v": 183.3}, {"t": "Uptrend", "u": 288.3, "v": 43.3}]},
   "mark": {"type": "text", "align": "left", "baseline": "middle", "fontSize": 10.5, "fontWeight": "bold", "fill": "#7f9b4e", "font": "Liberation Sans"},
   "encoding": {
     "x": {"field": "u", "type": "quantitative", "scale": {"domain": [-123, 1065], "nice": false, "zero": false}, "axis": null},
     "y": {"field": "v", "type": "quantitative", "scale": {"domain": [-77, 538], "nice": false, "zero": false, "reverse": true}, "axis": null},
     "text": {"field": "t"}}}
]}
],
"resolve": {"scale": {"x": "independent", "y": "independent"}}
}
